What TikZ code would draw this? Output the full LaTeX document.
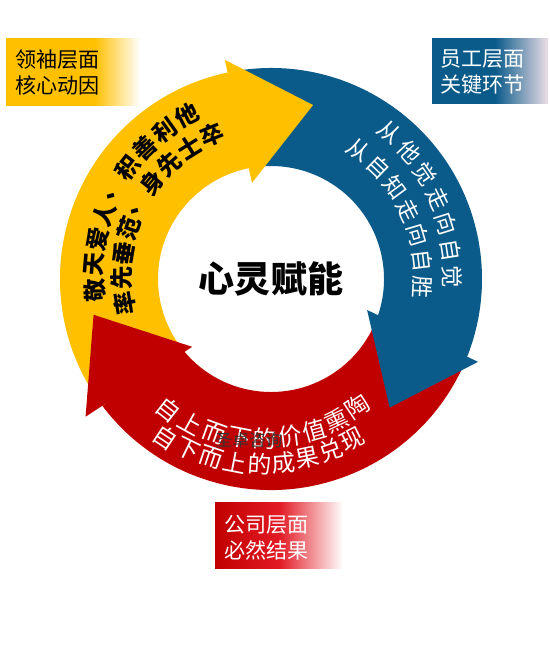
\documentclass[tikz,border=0pt]{standalone}
\usepackage{fontspec}
\setmainfont{Noto Sans CJK SC}
\usepackage{tikz}
\definecolor{huang}{RGB}{255,192,0}
\definecolor{lan}{RGB}{10,90,138}
\definecolor{hong}{RGB}{192,0,0}
\definecolor{hongliang}{RGB}{226,26,36}
\definecolor{fenbai}{RGB}{236,222,230}
\definecolor{shuiyin}{RGB}{60,50,50}
\pgfdeclarehorizontalshading{huangjian}{100bp}{color(0bp)=(huang); color(58bp)=(huang); color(75bp)=(white); color(100bp)=(white)}
\pgfdeclarehorizontalshading{lanjian}{100bp}{color(0bp)=(lan); color(52bp)=(lan); color(75bp)=(fenbai); color(100bp)=(fenbai)}
\pgfdeclarehorizontalshading{hongjian}{100bp}{color(0bp)=(hong); color(25bp)=(hong); color(50bp)=(hongliang); color(75bp)=(white); color(100bp)=(white)}

% one line of characters bent round the ring:
% start angle, angle step, start radius, radius step, turn, style, name, characters
\newcommand{\huxing}[8]{%
  \foreach \zi [count=\nn from 0] in {#8}
    \node[#6, rotate={#1+\nn*(#2)+#5}] (#7-\nn)
      at ({#1+\nn*(#2)}:{#3+\nn*(#4)}) {\zi};}

\begin{document}
\begin{tikzpicture}[x=0.02cm, y=0.02cm,
  zhongxin/.style={font=\fontsize{20.5}{24}\selectfont\bfseries, text=black, inner sep=0pt},
  huangzi/.style={font=\fontsize{13.3}{13}\selectfont\bfseries, text=black, inner sep=0pt},
  lanzi/.style={font=\fontsize{12.8}{13}\selectfont, text=white, inner sep=0pt},
  hongzi/.style={font=\fontsize{13.5}{14}\selectfont, text=white, inner sep=0pt},
  biaoqian/.style={font=\fontsize{12}{14.8}\selectfont, align=left, inner sep=0pt, anchor=west},
  shuiyinzi/.style={font=\fontsize{9.5}{10}\selectfont, text=shuiyin, inner sep=0pt}]
  \fill[white] (0,0) rectangle (549,-663);
  \useasboundingbox (0,0) rectangle (549,-663);

  % corner labels
  \path[shading=huangjian] (6,-38) rectangle (140,-105);
  \node[biaoqian, text=black] (lingxiu) at (15,-72.5) {领袖层面\\核心动因};
  \path[shading=lanjian] (432,-38) rectangle (548,-103);
  \node[biaoqian, text=white] (yuangong) at (440,-72.5) {员工层面\\关键环节};
  \path[shading=hongjian] (215,-502) rectangle (343,-568);
  \node[biaoqian, text=white] (gongsi) at (224,-537.5) {公司层面\\必然结果};

  \begin{scope}[shift={(271,-279)}]
    % ring bodies first, heads afterwards so each head lies over the next tail
    \fill[huang] (217:211) arc[start angle=217, end angle=99, radius=211]
      -- (99:113) arc[start angle=99, end angle=217, radius=113] -- cycle;
    \fill[lan] (99:211) arc[start angle=99, end angle=-24, radius=211]
      -- (-24:113) arc[start angle=-24, end angle=99, radius=113] -- cycle;
    \fill[hong] (-22:211) arc[start angle=-22, end angle=-143, radius=211]
      -- (-143:113) arc[start angle=-143, end angle=-22, radius=113] -- cycle;
    \fill[huang] (101.9:224) -- (76.4:179) -- (101.2:98) -- cycle;
    \fill[lan] (-21.8:223) -- (-47.3:175) -- (-17.9:101) -- cycle;
    \fill[hong] (216.6:231) -- (191.4:181) -- (220.7:104) -- cycle;

    \node[zhongxin] (xinling) at (0,0) {心灵赋能};

    \huxing{183.6}{-8.3}{176.3}{0.96}{-90}{huangzi}{hw}{敬,天,爱,人,、,积,善,利,他}
    \huxing{189.3}{-9.63}{148}{0.95}{-90}{huangzi}{hn}{率,先,垂,范,、,身,先,士,卒}
    \huxing{51}{-8.4}{189}{-1.33}{-90}{lanzi}{lw}{从,他,觉,走,向,自,觉}
    \huxing{56}{-9.83}{155.6}{-0.6}{-90}{lanzi}{ln}{从,自,知,走,向,自,胜}
    \huxing{231.8}{9.01}{166.6}{-1.575}{90}{hongzi}{hn1}{自,上,而,下,的,价,值,熏,陶}
    \huxing{236.3}{7.55}{191}{-1.375}{90}{hongzi}{hn2}{自,下,而,上,的,成,果,兑,现}

    \node[shuiyinzi] (shuiyin) at (-22,-161) {圣卓咨询};
  \end{scope}
\end{tikzpicture}
\end{document}
